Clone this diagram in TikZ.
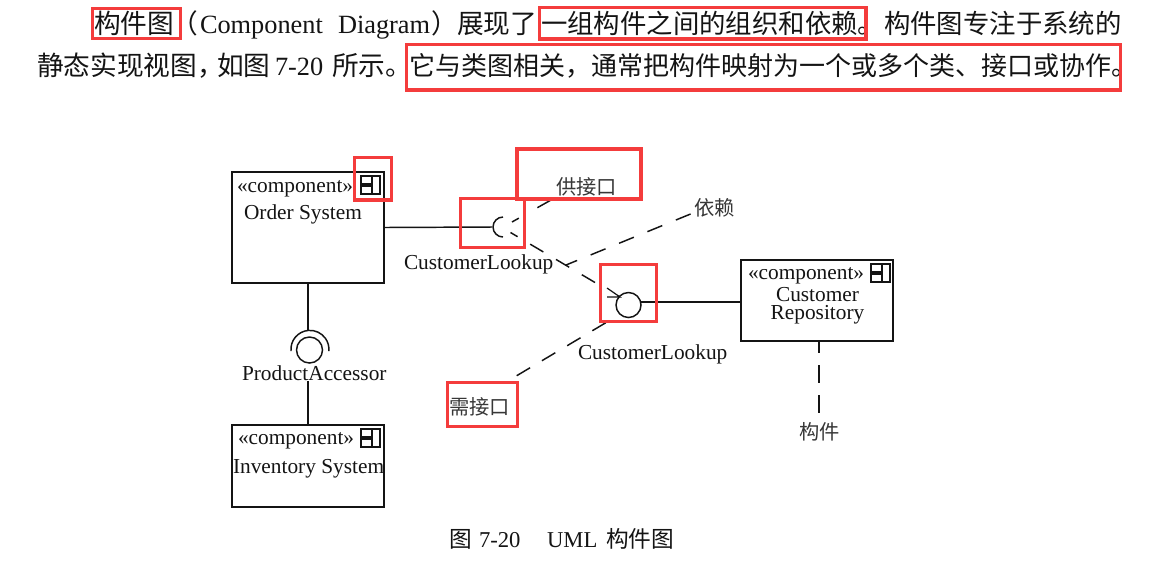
\documentclass[tikz,border=0pt]{standalone}
\usepackage{fontspec}
\setmainfont{Liberation Serif}
\newfontfamily\cjkfont{Noto Sans CJK SC}
\definecolor{annot}{HTML}{F43C3C}
\definecolor{ink}{HTML}{141414}
\tikzset{
  txt/.style={inner sep=0pt,outer sep=0pt,text=ink,anchor=base west},
  cjk/.style={txt,font=\cjkfont\fontsize{#1}{#1}\selectfont},
  lat/.style={txt,font=\fontsize{#1}{#1}\selectfont},
  dlabel/.style={lat=16},
  clabel/.style={inner sep=0pt,outer sep=0pt,text=ink!85,anchor=base west,font=\cjkfont\fontsize{15.2}{15.2}\selectfont},
  comp/.style={draw=ink,line width=1.1pt,inner sep=0pt,outer sep=0pt,minimum width=114pt,minimum height=#1},
  wire/.style={draw=ink,line width=1.1pt},
  dashwire/.style={wire,dash pattern=on 11.5pt off 11pt},
  ifcircle/.style={circle,draw=ink,line width=1.1pt,inner sep=0pt,outer sep=0pt,minimum size=#1},
  redbox/.style={draw=annot,line width=2.4pt},
  compicon/.pic={
    \draw[draw=ink,line width=1pt] (0,0) rectangle (11,8);
    \draw[draw=ink,line width=1pt] (0,10) rectangle (11,18);
    \draw[draw=ink,line width=1pt] (11,0) -- (19,0) -- (19,18) -- (11,18);
  }
}
\begin{document}
\begin{tikzpicture}[x=0.75pt,y=-0.75pt]
\useasboundingbox (0,0) rectangle (1169,569);
\fill[white] (0,0) rectangle (1169,569);

% paragraph, line 1
\node[cjk=20] (p1a) at (94,33) {构件图};
\node[cjk=20] (p1b) at (171,33) {（};
\node[lat=19.75] (p1c) at (200,33) {Component};
\node[lat=19.75] (p1d) at (338,33) {Diagram};
\node[cjk=20] (p1e) at (431,33) {）};
\node[cjk=20] (p1f) at (457,33) {展现了};
\node[cjk=19.8] (p1g) at (541,33) {一组构件之间的组织和依赖。};
\node[cjk=19.8] (p1h) at (884,33) {构件图专注于系统的};

% paragraph, line 2
\node[cjk=20] (p2a) at (37,75.5) {静态实现视图，};
\node[cjk=20] (p2b) at (217,75.5) {如图};
\node[lat=19.75] (p2c) at (275,75.5) {7-20};
\node[cjk=20] (p2d) at (332,75.5) {所示。};
\node[cjk=19.5] (p2e) at (409,75.5) {它与类图相关，通常把构件映射为一个或多个类、接口或协作。};

% components
\node[comp=83.25pt] (order) at (308,227.5) {};
\node[comp=61.5pt] (inv) at (308,466) {};
\node[comp=60.75pt] (repo) at (817,300.5) {};
\pic at (361,176) {compicon};
\pic at (361,429) {compicon};
\pic at (871,264) {compicon};

\node[dlabel] (st1) at (237,192) {«component»};
\node[dlabel] (nm1) at (244,219) {Order System};
\node[dlabel] (st2) at (238,444) {«component»};
\node[dlabel] (nm2) at (233,473) {Inventory System};
\node[dlabel] (st3) at (748,279) {«component»};
\node[inner sep=0pt,outer sep=0pt,text=ink,align=center,anchor=center,font=\fontsize{16}{13.5}\selectfont] (nm3) at (817.5,305.5) {Customer\\Repository};

% interface labels
\node[dlabel] (cl1) at (404,269) {CustomerLookup};
\node[dlabel] (cl2) at (578,359) {CustomerLookup};
\node[dlabel] (pa) at (242,380) {ProductAccessor};

% callout labels
\node[clabel] (gong) at (556,194) {供接口};
\node[clabel] (yilai) at (694,215) {依赖};
\node[clabel] (xu) at (449,414) {需接口};
\node[clabel] (gj) at (799,439) {构件};

% required interface and its line
\coordinate (reqmid) at (492,227);
\draw[wire] (order.east) -- (reqmid);
\draw[wire] (503,217) arc[start angle=90,end angle=270,radius=7.5pt];

% provided interface and its line
\node[ifcircle=18.75pt] (prov) at (628.5,305) {};
\draw[wire] (prov.14) -- (prov.14 -| repo.west);

% lollipop between Order and Inventory
\node[ifcircle=19.5pt] (lolli) at (309.5,350) {};
\coordinate (lollitop) at (308,331);
\coordinate (lollibelow) at (308,381);
\draw[wire] (order.south) -- (lollitop);
\draw[wire] (291,351) arc[start angle=185,end angle=-5,radius=14.25pt];
\draw[wire] (lollibelow) -- (inv.north);

% dashed connectors
\coordinate (reqA) at (512,222);
\coordinate (gongEnd) at (551,200);
\coordinate (reqB) at (510.5,232.5);
\coordinate (provDash) at (595,282.5);
\coordinate (tip) at (620,297);
\coordinate (depA) at (693,213);
\coordinate (depB) at (566,265);
\coordinate (provA) at (607,322);
\coordinate (xuEnd) at (516.7,375.7);
\coordinate (repoEnd) at (819,413.5);
\coordinate (barbA) at (607,288);
\coordinate (barbB) at (607,297);
\draw[wire,dash pattern=on 11.7pt off 16pt] (gongEnd) -- (reqA);
\draw[dashwire] (provDash) -- (reqB);
\draw[wire,dash pattern=on 12pt off 11pt,dash phase=3pt] (depB) -- (depA);
\draw[wire,dash pattern=on 11.7pt off 10.3pt] (xuEnd) -- (provA);
\draw[wire,dash pattern=on 13.5pt off 9pt,dash phase=4.5pt] (repo.south -| repoEnd) -- (repoEnd);
\draw[wire,line width=0.9pt] (barbA) -- (tip) -- (barbB);

% caption
\node[cjk=17] (c1) at (449,547) {图};
\node[lat=17] (c2) at (479,547) {7-20};
\node[lat=17] (c3) at (547,547) {UML};
\node[cjk=17] (c4) at (606,547) {构件图};

% red annotation boxes
\draw[redbox] (92.5,8.5) rectangle (180.5,38.5);
\draw[redbox] (539.5,7.5) rectangle (866,39);
\draw[redbox] (406.5,44.5) rectangle (1120.5,90);
\draw[redbox] (354.5,157.5) rectangle (391.5,200);
\draw[redbox] (517,149) rectangle (641,199);
\draw[redbox] (460.5,198.5) rectangle (524.5,247.5);
\draw[redbox] (600.5,264.5) rectangle (656.5,321.5);
\draw[redbox] (447.5,382.5) rectangle (517.5,426.5);
\end{tikzpicture}
\end{document}
